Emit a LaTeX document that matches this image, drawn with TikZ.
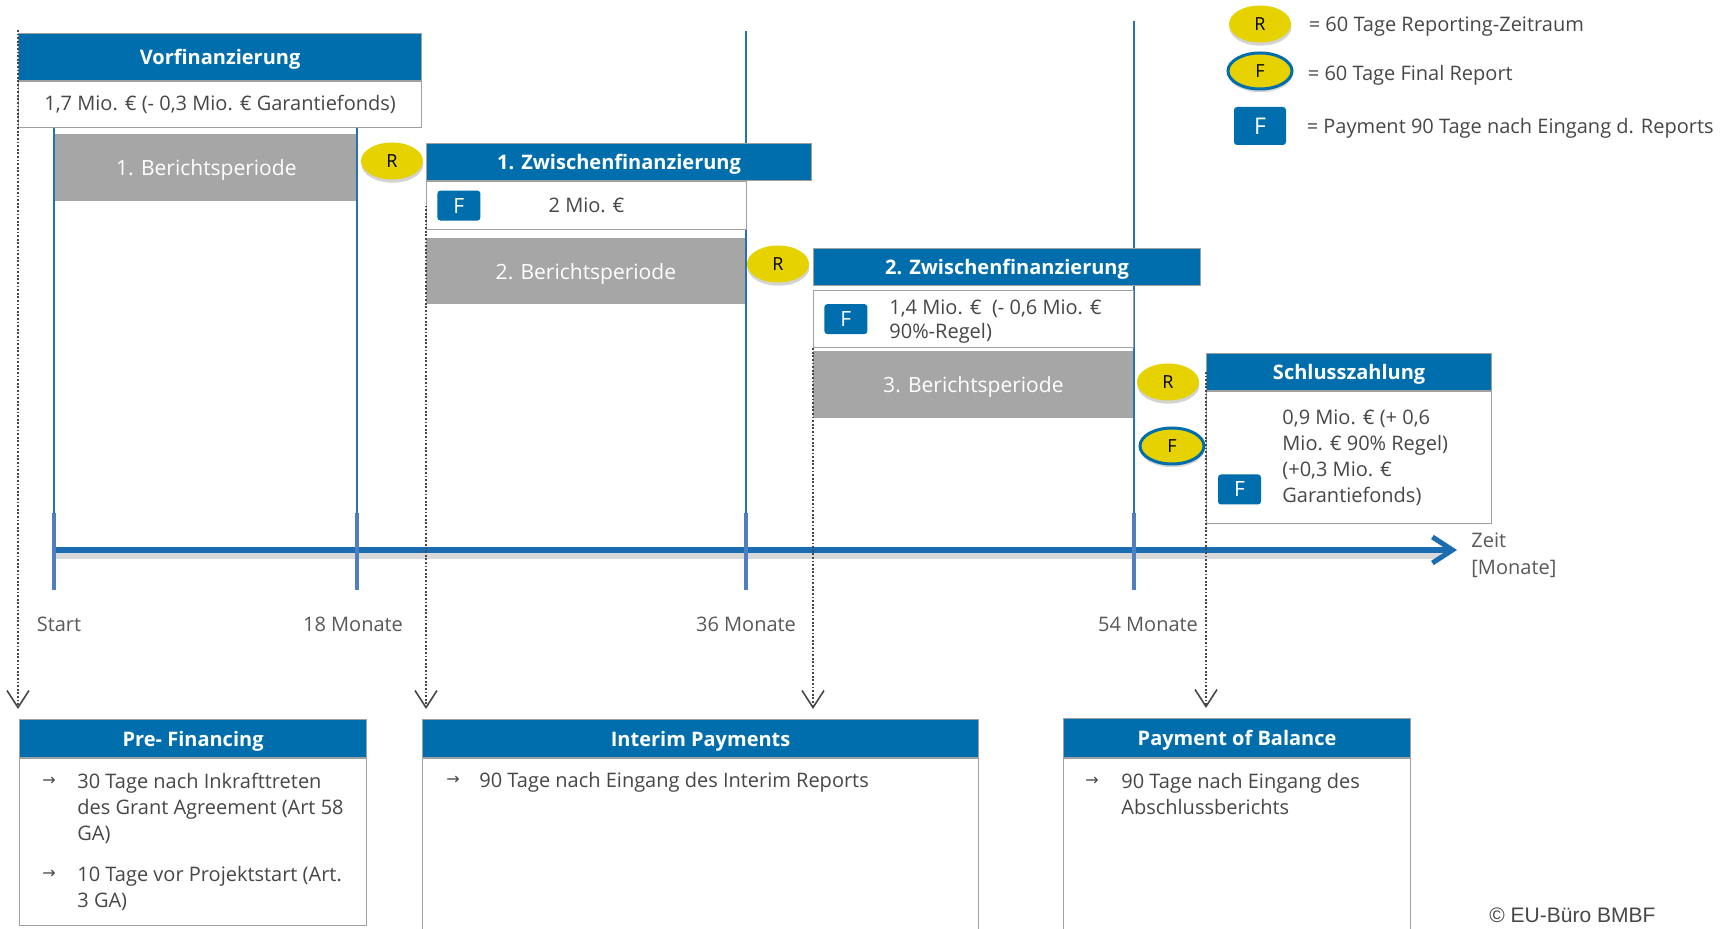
\documentclass[tikz,border=0pt]{standalone}
\usepackage{fontspec}
\setmainfont{Open Sans}
\newfontfamily\arrowfont{DejaVu Sans}
\newfontfamily\creditfont{Liberation Sans}
\usetikzlibrary{arrows.meta,positioning,shapes.geometric,shadows}
\definecolor{Brand}{HTML}{006EAD}
\definecolor{MonthLine}{HTML}{2770B5}
\definecolor{TickBlue}{HTML}{4F7FBE}
\definecolor{AxisBlue}{HTML}{1C6CB2}
\definecolor{Sun}{HTML}{E6D200}
\definecolor{Period}{HTML}{A6A6A6}
\definecolor{Frame}{HTML}{A0A0A0}
\definecolor{Ink}{HTML}{474747}
\definecolor{Muted}{HTML}{595959}
\tikzset{
  head/.style={draw=Frame,fill=Brand,text=white,font=\bfseries,text depth=0pt,line width=.6pt,inner sep=0pt,anchor=north west},
  valbox/.style={draw=Frame,fill=white,text=Ink,line width=.6pt,inner sep=0pt,anchor=north west},
  period/.style={fill=Period,text=white,font=\fontsize{10.5}{12}\selectfont,text depth=0pt,inner sep=0pt,anchor=north west},
  rmark/.style={ellipse,fill=Sun,minimum width=31pt,minimum height=18.5pt,inner sep=0pt,font=\fontsize{9}{10}\selectfont,drop shadow={shadow xshift=.2pt,shadow yshift=-1.6pt,opacity=.35}},
  fmark/.style={rmark,draw=Brand,line width=1.5pt,minimum width=32pt,minimum height=18pt},
  paybox/.style={fill=Brand,text=white,rounded corners=1.5pt,minimum width=21.5pt,minimum height=15pt,inner sep=0pt,font=\fontsize{10.5}{12}\selectfont},
  note/.style={text=Ink,inner sep=0pt,align=left,font=\fontsize{10}{13}\selectfont},
  legtext/.style={note,text depth=0pt},
  axislabel/.style={text=Muted,inner sep=0pt,align=left},
  bullet/.style={text=Ink,inner sep=0pt,font=\arrowfont\fontsize{8}{9}\selectfont},
  monthline/.style={draw=MonthLine,line width=1pt},
  monthtick/.style={draw=TickBlue,line width=1.6pt},
  timeaxis/.style={draw=AxisBlue,line width=3pt,-{Straight Barb[length=10pt,width=13pt,line width=2.5pt]}},
  axisshade/.style={draw=black,opacity=.15,line width=3pt},
  payflow/.style={draw=Ink,line width=.9pt,dash pattern=on .9pt off .9pt,shorten >=5pt,-{Straight Barb[length=8.5pt,width=11pt,line width=.8pt]}}
}
\begin{document}
\begin{tikzpicture}[x=.5pt,y=-.5pt]
  \useasboundingbox (0,0) rectangle (1731,929);
  \clip (0,0) rectangle (1731,929);
  % points on the time axis
  \coordinate (m0) at (54,550);
  \coordinate (m18) at (357,550);
  \coordinate (m36) at (746,550);
  \coordinate (m54) at (1134,550);
  \coordinate (axend) at (1457,550);
  % report periods
  \node[period,minimum width=151pt,minimum height=33.5pt] (per1) at (55,134) {1. Berichtsperiode};
  \node[period,minimum width=159.5pt,minimum height=33pt] (per2) at (426,238) {2. Berichtsperiode};
  \node[period,minimum width=160pt,minimum height=33.5pt] (per3) at (813,351) {3. Berichtsperiode};
  \draw[monthline] (m0) -- ++(0,-424);
  \draw[monthline] (m18) -- ++(0,-424);
  \draw[monthline] (m36) -- ++(0,-519);
  \draw[monthline] (m54) -- ++(0,-529);
  % payments
  \node[head,minimum width=201.5pt,minimum height=23.5pt] (vorf) at (18,33) {Vorfinanzierung};
  \node[valbox,minimum width=201.5pt,minimum height=23pt,below=0pt of vorf] (vorfval) {1,7 Mio. € (- 0,3 Mio. € Garantiefonds)};
  \node[head,minimum width=192.5pt,minimum height=18.5pt] (zw1) at (426,143) {1. Zwischenfinanzierung};
  \node[valbox,minimum width=160pt,minimum height=24pt] (zw1val) at (426,181) {2 Mio. €};
  \node[paybox,right=5.5pt of zw1val.west] (zw1pay) {F};
  \node[head,minimum width=193.5pt,minimum height=18.5pt] (zw2) at (813,248) {2. Zwischenfinanzierung};
  \node[valbox,minimum width=160pt,minimum height=28.5pt] (zw2val) at (813,290) {};
  \node[paybox,right=5.5pt of zw2val.west] (zw2pay) {F};
  \node[note,font=\fontsize{10}{12}\selectfont,anchor=north west] (zw2amt) at (889,299) {1,4 Mio. €\ \ (- 0,6 Mio. €\\90\%-Regel)};
  \node[head,minimum width=142.5pt,minimum height=18.5pt] (schl) at (1206,353) {Schlusszahlung};
  \node[valbox,minimum width=142.5pt,minimum height=66pt,below=0pt of schl] (schlval) {};
  \node[paybox] (schlpay) at (1239.5,489.5) {F};
  \node[note,anchor=north west] (schlamt) at (1282,409) {0,9 Mio. € (+ 0,6\\Mio. € 90\% Regel)\\(+0,3 Mio. €\\Garantiefonds)};
  \node[rmark] (rep1) at (392,161) {R};
  \node[rmark] (rep2) at (778,264) {R};
  \node[rmark] (rep3) at (1168,382) {R};
  \node[fmark] (fin) at (1172,446) {F};
  % time axis
  \draw[axisshade] ([yshift=-3pt]m0) -- ([yshift=-3pt,xshift=-8pt]axend);
  \draw[timeaxis] (m0) -- (axend);
  \foreach \m in {m0,m18,m36,m54}
    \draw[monthtick] (\m) ++(0,-37) -- ++(0,77);
  \node[axislabel] (lstart) at (59,624) {Start};
  \node[axislabel] (l18) at (353,624) {18 Monate};
  \node[axislabel] (l36) at (746,624) {36 Monate};
  \node[axislabel] (l54) at (1148,624) {54 Monate};
  \node[axislabel,anchor=west,font=\fontsize{10}{13.5}\selectfont] (zeit) at (1471,555) {Zeit\\{}[Monate]};
  % payment rules
  \node[head,minimum width=173.5pt,minimum height=19pt] (prehead) at (19,719) {Pre- Financing};
  \node[valbox,minimum width=173.5pt,minimum height=83.5pt,below=0pt of prehead] (prebody) {};
  \node[head,minimum width=278pt,minimum height=19pt] (inthead) at (422,719) {Interim Payments};
  \node[valbox,minimum width=278pt,minimum height=95pt,below=0pt of inthead] (intbody) {};
  \node[head,minimum width=173.5pt,minimum height=19.5pt] (balhead) at (1063,718) {Payment of Balance};
  \node[valbox,minimum width=173.5pt,minimum height=95pt,below=0pt of balhead] (balbody) {};
  \node[bullet] (preb1) at (49,781) {→};
  \node[note,anchor=north west] (pret1) at (77,773) {30 Tage nach Inkrafttreten\\des Grant Agreement (Art 58\\GA)};
  \node[bullet] (preb2) at (49,874) {→};
  \node[note,anchor=north west] (pret2) at (77,866) {10 Tage vor Projektstart (Art.\\3 GA)};
  \node[bullet] (intb1) at (453,780) {→};
  \node[note,anchor=north west] (intt1) at (479,772) {90 Tage nach Eingang des Interim Reports};
  \node[bullet] (balb1) at (1092,781) {→};
  \node[note,anchor=north west] (balt1) at (1121,773) {90 Tage nach Eingang des\\Abschlussberichts};
  \draw[payflow] ([yshift=1.5pt]vorf.north west) -- (vorf.north west |- prehead.north);
  \draw[payflow] (zw1val.west) -- (zw1val.west |- inthead.north);
  \draw[payflow] (zw2val.south west) -- (zw2val.south west |- inthead.north);
  \draw[payflow] (schl.west) -- (schl.west |- balhead.north);
  % legend
  \node[rmark] (legrep) at (1260,24) {R};
  \node[legtext,right=8.5pt of legrep] (legreptxt) {= 60 Tage Reporting-Zeitraum};
  \node[fmark] (legfin) at (1260,71) {F};
  \node[legtext,right=7pt of legfin,yshift=-1pt] (legfintxt) {= 60 Tage Final Report};
  \node[paybox,minimum width=26pt,minimum height=19pt,font=\fontsize{11.5}{13}\selectfont] (legpay) at (1260,126) {F};
  \node[legtext,right=10pt of legpay] (legpaytxt) {= Payment 90 Tage nach Eingang d. Reports};
  \node[note,font=\creditfont\fontsize{10.5}{12}\selectfont,anchor=west] (credit) at (1489,915) {© EU-Büro BMBF};
\end{tikzpicture}
\end{document}
